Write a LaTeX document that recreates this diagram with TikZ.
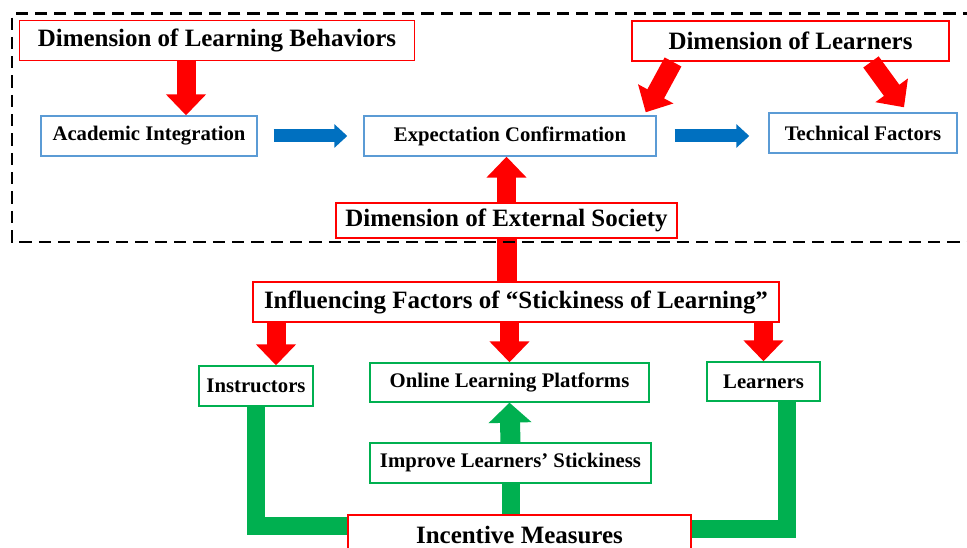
\documentclass[tikz,border=0pt]{standalone}
\usepackage{fontspec}
\setmainfont{Liberation Serif}
\usetikzlibrary{arrows.meta,positioning}
\definecolor{boxblue}{HTML}{5B9BD5}
\definecolor{arrowblue}{HTML}{0070C0}
\definecolor{boxgreen}{HTML}{00B050}
\newcommand{\dimfont}{\bfseries\fontsize{14.2}{16}\selectfont}
\newcommand{\itemfont}{\bfseries\fontsize{11.8}{14}\selectfont}

\begin{document}
\begin{tikzpicture}[
        dimension/.style={rectangle, draw=red, line width=1.1pt, fill=white, minimum height=0.8cm, font=\dimfont},
        stage/.style={rectangle, draw=boxblue, line width=0.8pt, fill=white, minimum height=0.8cm, font=\itemfont},
        factor/.style={rectangle, draw=boxgreen, line width=0.8pt, fill=white, minimum height=0.8cm, font=\itemfont},
        redarrow/.style={draw=red, line width=0.38cm, -{Triangle[length=0.42cm,width=0.78cm]}},
        redshaft/.style={draw=red, line width=0.4cm},
        bluearrow/.style={draw=arrowblue, line width=0.26cm, -{Triangle[length=0.26cm,width=0.46cm]}},
        greenarrow/.style={draw=boxgreen, line width=0.4cm, -{Triangle[length=0.4cm,width=0.84cm]}},
        greenline/.style={draw=boxgreen, line width=0.36cm},
        border/.style={draw, line width=1.7pt, dash pattern=on 7pt off 4pt}
    ]
        \useasboundingbox (0,0) rectangle (19.34,10.94);

        % Dimensions
        \node[dimension, minimum width=7.9cm] (behav) at (4.34,10.13) {Dimension of Learning Behaviors};
        \node[dimension, minimum width=6.34cm] (learn) at (15.81,10.12) {Dimension of Learners};
        \node[dimension, minimum width=6.82cm, minimum height=0.7cm] (society) at (10.13,6.53) {Dimension of External Society};

        % Stages
        \node[stage, minimum width=4.32cm] (academic) at (2.98,8.22) {Academic Integration};
        \node[stage, minimum width=5.84cm] (expect) at (10.2,8.22) {Expectation Confirmation};
        \node[stage, minimum width=3.76cm] (tech) at (17.26,8.28) {Technical Factors};

        % Influencing factors
        \node[dimension, minimum width=10.52cm] (influence) at (10.32,4.9) {Influencing Factors of “Stickiness of Learning”};
        \node[factor, minimum width=2.28cm] (instr) at (5.12,3.22) {Instructors};
        \node[factor, minimum width=5.58cm, minimum height=0.78cm] (platform) at (10.19,3.29) {Online Learning Platforms};
        \node[factor, minimum width=2.26cm, minimum height=0.78cm] (learners) at (15.27,3.31) {Learners};
        \node[factor, minimum width=5.62cm] (improve) at (10.21,1.68) {Improve Learners’ Stickiness};
        \node[dimension, minimum width=6.86cm] (incentive) at (10.39,0.24) {Incentive Measures};

        % Connections
        \draw[redarrow] ([xshift=-0.62cm]behav.south) -- ([xshift=0.74cm]academic.north);
        \draw[redarrow] ([xshift=0.84cm]learn.south west) -- ([xshift=-0.22cm,yshift=0.06cm]expect.north east);
        \draw[redarrow] ([xshift=-1.58cm]learn.south east) -- ([xshift=0.82cm,yshift=0.1cm]tech.north);
        \draw[bluearrow, shorten <=0.32cm, shorten >=0.32cm] (academic) -- (expect);
        \draw[bluearrow, shorten <=0.36cm, shorten >=0.38cm] (expect.east) -- (expect.east -| tech.west);
        \draw[redshaft] (influence.north -| society.south) -- (society.south);
        \draw[redarrow] (society.north) -- (society.north |- expect.south);

        \coordinate (instrtop) at ([xshift=0.4cm]instr.north);
        \draw[redarrow] (influence.south -| instrtop) -- (instrtop);
        \draw[redarrow] (influence.south -| platform.north) -- (platform.north);
        \draw[redarrow] (influence.south -| learners.north) -- (learners.north);

        % Incentive loop
        \draw[greenline] (instr.south) |- ([yshift=0.18cm]incentive.west);
        \draw[greenline] ([xshift=0.47cm]learners.south) |- ([yshift=0.12cm]incentive.east);
        \draw[greenline] (incentive.north -| improve.south) -- (improve.south);
        \draw[greenarrow] (improve.north) -- (platform.south);

        % Dashed frame
        \draw[border] (19.5,10.66) -- (0.24,10.66) -- (0.24,6.10) -- (19.5,6.10);
    \end{tikzpicture}
\end{document}
